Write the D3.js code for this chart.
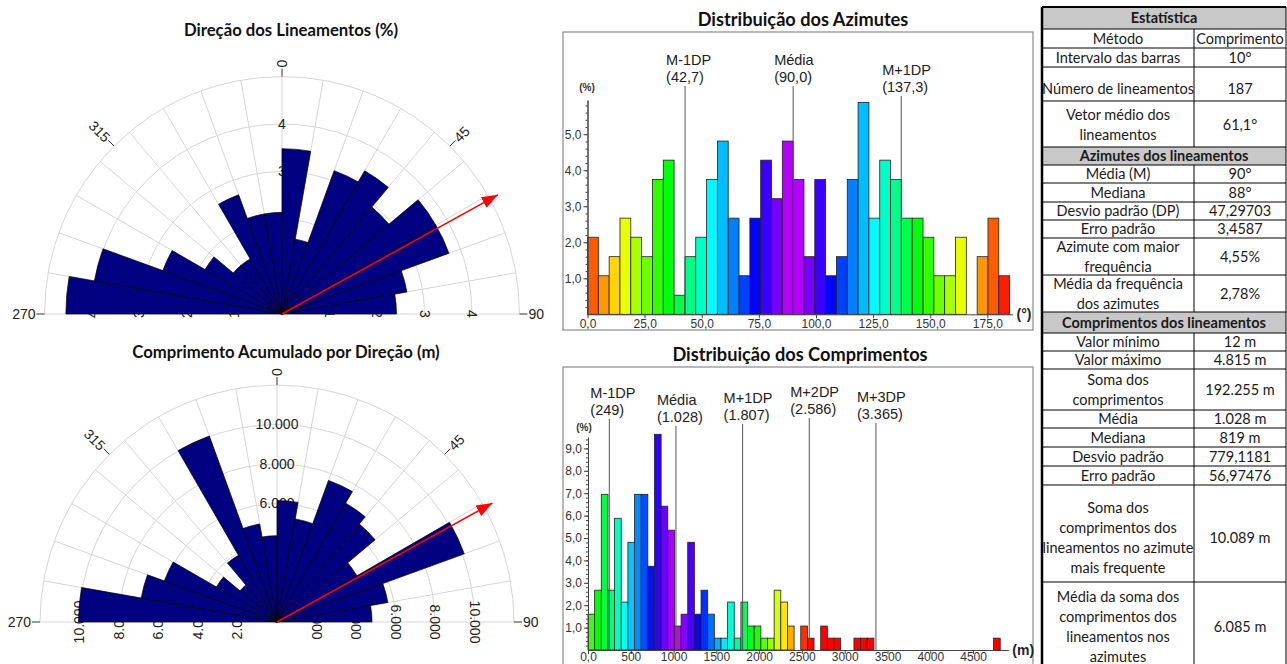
<!DOCTYPE html>
<html>
<head>
<meta charset="utf-8">
<script src="https://cdn.jsdelivr.net/npm/d3@7"></script>
<style>
  body { margin: 0; background: #fff; }
  svg { display: block; font-family: "Liberation Sans", Arial, sans-serif; }
</style>
</head>
<body>
<svg width="1287" height="664"></svg>
<script>
const svg = d3.select("svg");

// ---- data ----
// rose sectors (start azimuth of each 10 degree sector)
const roseSectors = [270, 280, 290, 300, 310, 320, 330, 340, 350, 0, 10, 20, 30, 40, 50, 60, 70, 80];
const roseDirPct = [4.55, 4.01, 2.67, 1.87, 1.34, 1.34, 2.67, 2.14, 2.14, 3.48, 1.60, 3.21, 3.48, 2.94, 3.74, 3.74, 2.67, 2.41];
const roseLenSum = [10050, 6980, 6070, 3540, 2450, 3900, 10020, 5040, 4370, 6150, 5300, 7630, 6950, 6480, 4670, 10089, 5700, 4810];
const roseAxisAngles = [270, 315, 0, 45, 90];
const dirRings = [1, 2, 3, 4];
const lenRings = [2000, 4000, 6000, 8000, 10000];
const meanVector = 61.1;

// azimuth histogram
const azBinWidth = 4.737;
const azPct = [2.14, 1.07, 1.60, 2.67, 2.14, 1.60, 3.74, 4.28, 0.53, 1.60, 2.14, 3.74, 4.81, 2.67, 1.07, 2.67, 4.28, 3.21, 4.81, 3.74,
  1.60, 3.74, 1.07, 1.60, 3.74, 5.88, 2.67, 4.28, 3.74, 2.67, 2.67, 2.14, 1.07, 1.07, 2.14, 0, 1.60, 2.67, 1.07];
const azMarkNames = ["M-1DP", "Média", "M+1DP"];
const azMarkValues = [42.7, 90.0, 137.3];
const azTicks = [0, 25, 50, 75, 100, 125, 150, 175];
const azMean = 90, azSd = 47.29703;

// length histogram
const lenBinWidth = 77.7;
const lenPct = [1.60, 2.67, 6.95, 2.67, 5.88, 2.14, 4.81, 6.95, 6.95, 3.74, 9.63, 6.42, 5.35, 1.07, 1.60, 4.81, 1.60, 2.67, 1.60, 0.53,
  0.53, 2.14, 0.53, 2.14, 1.07, 1.07, 0.53, 0.53, 2.67, 2.14, 1.07, 0, 1.07, 0.53, 0, 1.07, 0.53, 0.53, 0, 0,
  0.53, 0.53, 0.53, 0, 0, 0, 0, 0, 0, 0, 0, 0, 0, 0, 0, 0, 0, 0, 0, 0, 0, 0.53];
const lenMarkNames = ["M-1DP", "Média", "M+1DP", "M+2DP", "M+3DP"];
const lenMarkValues = [249, 1028, 1807, 2586, 3365];
const lenTicks = [0, 500, 1000, 1500, 2000, 2500, 3000, 3500, 4000, 4500];
const lenMean = 1028, lenSd = 779.1181;

// statistics table
const statLabels = ["Estatística", "Método", "Intervalo das barras", "Número de lineamentos", "Vetor médio dos\nlineamentos",
  "Azimutes dos lineamentos", "Média (M)", "Mediana", "Desvio padrão (DP)", "Erro padrão", "Azimute com maior\nfrequência",
  "Média da frequência\ndos azimutes", "Comprimentos dos lineamentos", "Valor mínimo", "Valor máximo", "Soma dos\ncomprimentos",
  "Média", "Mediana", "Desvio padrão", "Erro padrão",
  "Soma dos\ncomprimentos dos\nlineamentos no azimute\nmais frequente",
  "Média da soma dos\ncomprimentos dos\nlineamentos nos\nazimutes"];
const statValues = [null, "Comprimento", "10°", "187", "61,1°", null, "90°", "88°", "47,29703", "3,4587", "4,55%", "2,78%", null,
  "12 m", "4.815 m", "192.255 m", "1.028 m", "819 m", "779,1181", "56,97476", "10.089 m", "6.085 m"];

// ---- layout ----
const rowHeights = [22, 19, 19, 34, 46, 18, 18, 19, 18, 18, 37, 37, 21, 18, 18, 41, 18, 19, 19, 19, 97, 90];
const rowTextShift = [0, 0, 0, 5, 1, 0, 0, 0, 0, 0, 0, 0, 0, 0, 0, 0, 0, 0, 0, 0, 4, 0];

const ptBR = d3.formatLocale({ decimal: ",", thousands: ".", grouping: [3], currency: ["", ""] });
const fmt1 = ptBR.format(".1f");
const fmtInt = ptBR.format(",d");
const rad = a => a * Math.PI / 180;
const signed = a => a >= 180 ? a - 360 : a;

// arrow head
svg.append("defs").append("marker")
  .attr("id", "arrow")
  .attr("viewBox", "0 -6 16 12")
  .attr("refX", 16).attr("refY", 0)
  .attr("markerWidth", 16).attr("markerHeight", 12)
  .attr("markerUnits", "userSpaceOnUse")
  .attr("orient", "auto")
  .append("path").attr("d", "M0,-6L16,0L0,6Z").attr("fill", "#ff0000");

function title(x, y, txt, size) {
  svg.append("text").attr("x", x).attr("y", y).attr("text-anchor", "middle")
    .style("font-family", "Lato, 'Open Sans', sans-serif").style("font-weight", "bold")
    .style("font-size", size + "px").attr("fill", "#111").text(txt);
}

function drawRose(cx, cy, values, rScale, rings, ringFmt) {
  const g = svg.append("g").attr("transform", `translate(${cx},${cy})`);
  const rMax = rScale.range()[1];

  //grid spokes and rings
  g.selectAll(".spoke").data(d3.range(-90, 91, 10)).enter().append("line")
    .attr("x2", a => rMax * Math.sin(rad(a)))
    .attr("y2", a => -rMax * Math.cos(rad(a)))
    .attr("stroke", "#d6d6d6");
  g.selectAll(".ring").data(rings.concat([rScale.domain()[1]])).enter().append("path")
    .attr("d", v => { const r = rScale(v); return `M${-r},0A${r},${r} 0 0 1 ${r},0`; })
    .attr("fill", "none").attr("stroke", "#d6d6d6");

  // ring labels (drawn under the bars)
  const lab = g.append("g").style("font-size", "14px").attr("fill", "#222").attr("text-anchor", "middle");
  rings.forEach(v => {
    const r = rScale(v);
    lab.append("text").attr("x", 0).attr("y", -r).attr("dy", "0.35em").text(ringFmt(v));
    lab.append("text").attr("transform", `translate(${r},0) rotate(90)`).attr("dy", "0.35em").text(ringFmt(v));
    lab.append("text").attr("transform", `translate(${-r},0) rotate(-90)`).attr("dy", "0.35em").text(ringFmt(v));
  });

  // bars
  const arc = d3.arc().innerRadius(0)
    .outerRadius(d => rScale(d.v))
    .startAngle(d => rad(d.a))
    .endAngle(d => rad(d.a + 10));
  g.selectAll(".sector").data(values.map((v, i) => ({ a: signed(roseSectors[i]), v: v }))).enter()
    .append("path")
    .attr("d", arc)
    .attr("fill", "#000080")
    .attr("stroke", "#000")
    .attr("stroke-width", 0.7);

  // outer direction labels
  roseAxisAngles.forEach(a0 => {
    const a = signed(a0), s = Math.sin(rad(a)), c = -Math.cos(rad(a));
    g.append("line")
      .attr("x1", rMax * s).attr("y1", rMax * c)
      .attr("x2", (rMax + 8) * s).attr("y2", (rMax + 8) * c)
      .attr("stroke", "#333");
    const rot = a >= 0 ? a - 90 : a + 90;
    g.append("text")
      .attr("transform", `translate(${(rMax + 9) * s},${(rMax + 9) * c}) rotate(${rot})`)
      .attr("text-anchor", a >= 0 ? "start" : "end")
      .attr("dy", "0.35em")
      .style("font-size", "14px").attr("fill", "#222")
      .text(a0);
  });

  // mean vector
  const tip = rMax + 9;
  g.append("line")
    .attr("x2", tip * Math.sin(rad(meanVector)))
    .attr("y2", -tip * Math.cos(rad(meanVector)))
    .attr("stroke", "#ff0000").attr("stroke-width", 1.5)
    .attr("marker-end", "url(#arrow)");
}

function drawHist(o) {
  const g = svg.append("g");
  const x = o.x, y = o.y;
  const hue = d3.scaleLinear().domain([0, 1, 2]).range([290, 145, 0]).clamp(true);

  g.append("rect").attr("x", o.frame[0]).attr("y", o.frame[1])
    .attr("width", o.frame[2]).attr("height", o.frame[3])
    .attr("fill", "#fff").attr("stroke", "#8a8a8a").attr("stroke-width", 1.2);

  // bars
  const bins = o.pct.map((v, i) => ({ x0: i * o.binWidth, x1: (i + 1) * o.binWidth, v: v })).filter(d => d.v > 0);
  g.selectAll(".bar").data(bins).enter().append("rect")
    .attr("x", d => x(d.x0))
    .attr("y", d => y(d.v))
    .attr("width", d => x(d.x1) - x(d.x0))
    .attr("height", d => y(0) - y(d.v))
    .attr("fill", d => d3.hsl(hue(Math.abs((d.x0 + d.x1) / 2 - o.mean) / o.sd), 1, 0.5))
    .attr("stroke", "#222").attr("stroke-width", 0.8);

  // axes
  const yMax = y.domain()[1];
  const gy = g.append("g").attr("transform", `translate(${x(0)},0)`)
    .call(d3.axisLeft(y).tickValues(d3.range(1, Math.floor(yMax) + 1)).tickFormat(fmt1).tickSize(4).tickSizeOuter(0));
  g.append("g").attr("transform", `translate(${x(0)},0)`)
    .call(d3.axisLeft(y).tickValues(d3.range(0.2, yMax, 0.2)).tickFormat("").tickSize(2).tickSizeOuter(0));
  const gx = g.append("g").attr("transform", `translate(0,${y(0)})`)
    .call(d3.axisBottom(x).tickValues(o.ticks).tickFormat(o.tickFmt).tickSize(4).tickSizeOuter(0));
  g.selectAll(".domain, .tick line").attr("stroke", "#444");
  g.selectAll(".tick text").style("font-size", "12px").style("font-family", "'Liberation Sans', Arial, sans-serif").attr("fill", "#333");
  gy.selectAll(".tick text").attr("x", -6);
  gx.selectAll(".tick text").attr("y", o.xLabelGap);

  g.append("text").attr("x", o.pctLabel[0]).attr("y", o.pctLabel[1]).attr("text-anchor", "middle")
    .style("font-size", "10px").style("font-weight", "bold").attr("fill", "#333").text("(%)");
  g.append("text").attr("x", x.range()[1] + 4).attr("y", y(0) + 5).attr("text-anchor", "start")
    .style("font-size", "14px").style("font-weight", "bold").attr("fill", "#222").text(o.unit);

  // statistics markers
  o.markValues.forEach((v, i) => {
    const lx = x(v), ty = o.markBase + o.markDy[i];
    g.append("line").attr("x1", lx).attr("x2", lx)
      .attr("y1", ty + 21).attr("y2", y(0))
      .attr("stroke", "#555").attr("stroke-width", 1);
    const t = g.append("text").attr("x", lx - 19).attr("y", ty)
      .style("font-size", "14.5px").attr("fill", "#222");
    t.append("tspan").attr("x", lx - 19).text(o.markNames[i]);
    t.append("tspan").attr("x", lx - 19).attr("dy", 17).text("(" + o.markFmt(v) + ")");
  });
}

function drawTable(x0, x1, x2, y0) {
  const g = svg.append("g").style("font-family", "Lato, 'Open Sans', sans-serif").style("font-size", "14.5px");
  let yy = y0;
  statLabels.forEach((lbl, i) => {
    const h = rowHeights[i];
    const header = statValues[i] === null;
    if (header) {
      g.append("rect").attr("x", x0).attr("y", yy).attr("width", x2 - x0).attr("height", h).attr("fill", "#c8c8c8");
    }
    const cells = header ? [[lbl, (x0 + x2) / 2]] : [[lbl, (x0 + x1) / 2], [statValues[i], (x1 + x2) / 2]];
    cells.forEach(([txt, cx]) => {
      const lines = txt.split("\n");
      const t = g.append("text").attr("text-anchor", "middle").attr("fill", "#1a1a1a")
        .style("font-weight", header ? "bold" : "normal");
      lines.forEach((ln, k) => {
        t.append("tspan").attr("x", cx)
          .attr("y", yy + h / 2 + rowTextShift[i] + (k - (lines.length - 1) / 2) * 20)
          .attr("dy", "0.35em").text(ln);
      });
    });
    g.append("line").attr("x1", x0).attr("x2", x2).attr("y1", yy).attr("y2", yy).attr("stroke", "#000");
    if (!header) {
      g.append("line").attr("x1", x1).attr("x2", x1).attr("y1", yy).attr("y2", yy + h).attr("stroke", "#000");
    }
    yy += h;
  });
  g.append("line").attr("x1", x0).attr("x2", x0).attr("y1", y0).attr("y2", yy).attr("stroke", "#000").attr("stroke-width", 2.5);
  g.append("line").attr("x1", x2).attr("x2", x2).attr("y1", y0).attr("y2", yy).attr("stroke", "#000");
  g.append("line").attr("x1", x0).attr("x2", x2).attr("y1", y0).attr("y2", y0).attr("stroke", "#000").attr("stroke-width", 2);
}

// ---- roses ----
title(291, 36, "Direção dos Lineamentos (%)", 16.7);
drawRose(282, 314, roseDirPct, d3.scaleLinear().domain([0, 5]).range([0, 237.5]), dirRings, d => d);

title(286, 358, "Comprimento Acumulado por Direção (m)", 16.7);
drawRose(277, 622, roseLenSum, d3.scaleLinear().domain([0, 12000]).range([0, 237]), lenRings, fmtInt);

// ---- histograms ----
title(803, 26, "Distribuição dos Azimutes", 18.2);
drawHist({
  frame: [563, 32, 470, 298],
  x: d3.scaleLinear().domain([0, 186]).range([587.5, 1012.5]),
  y: d3.scaleLinear().domain([0, 5.95]).range([314.3, 100]),
  pct: azPct, binWidth: azBinWidth, mean: azMean, sd: azSd,
  ticks: azTicks, tickFmt: fmt1, xLabelGap: 5,
  markNames: azMarkNames, markValues: azMarkValues, markFmt: fmt1,
  markBase: 65, markDy: [0, 0, 10],
  pctLabel: [587, 91], unit: "(°)"
});

title(800, 361, "Distribuição dos Comprimentos", 18.2);
drawHist({
  frame: [563, 367, 470, 340],
  x: d3.scaleLinear().domain([0, 4912]).range([588, 1008.3]),
  y: d3.scaleLinear().domain([0, 9.5]).range([650, 437.2]),
  pct: lenPct, binWidth: lenBinWidth, mean: lenMean, sd: lenSd,
  ticks: lenTicks, tickFmt: v => v === 0 ? "0,0" : String(v), xLabelGap: 2,
  markNames: lenMarkNames, markValues: lenMarkValues, markFmt: fmtInt,
  markBase: 397, markDy: [1, 8, 6, 0, 5],
  pctLabel: [584, 431], unit: "(m)"
});

// ---- table ----
drawTable(1042, 1194, 1286, 7);
</script>
</body>
</html>
